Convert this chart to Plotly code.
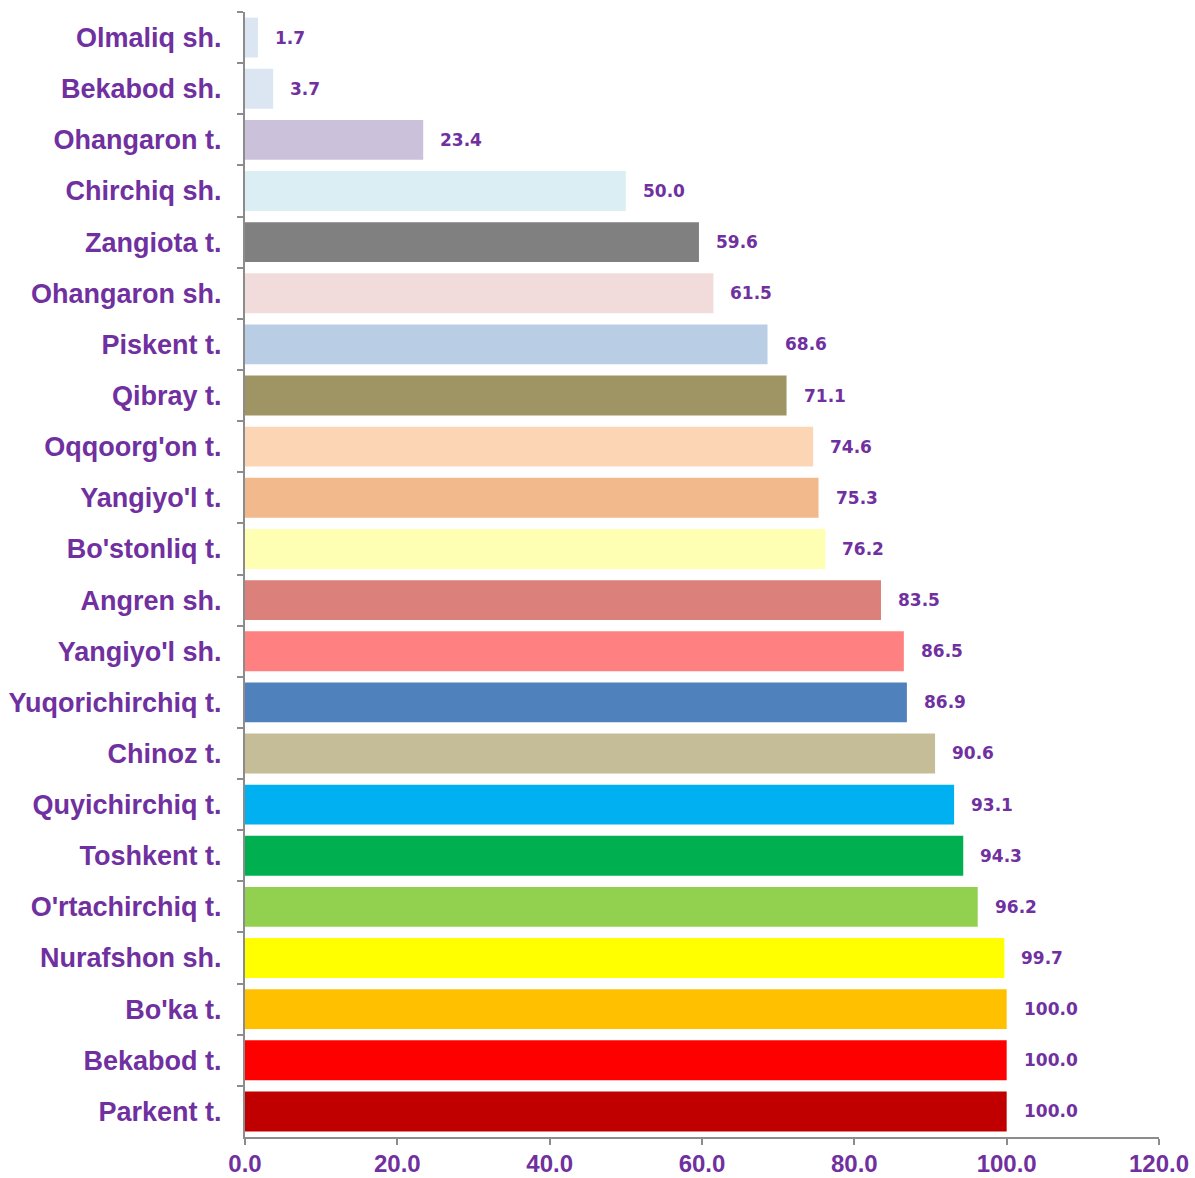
import plotly.graph_objects as go

categories = ["Olmaliq sh.", "Bekabod sh.", "Ohangaron t.", "Chirchiq sh.", "Zangiota t.",
              "Ohangaron sh.", "Piskent t.", "Qibray t.", "Oqqoorg'on t.", "Yangiyo'l t.",
              "Bo'stonliq t.", "Angren sh.", "Yangiyo'l sh.", "Yuqorichirchiq t.", "Chinoz t.",
              "Quyichirchiq t.", "Toshkent t.", "O'rtachirchiq t.", "Nurafshon sh.", "Bo'ka t.",
              "Bekabod t.", "Parkent t."]
values = [1.7, 3.7, 23.4, 50.0, 59.6, 61.5, 68.6, 71.1, 74.6, 75.3, 76.2, 83.5, 86.5, 86.9,
          90.6, 93.1, 94.3, 96.2, 99.7, 100.0, 100.0, 100.0]
colors = ["#DCE6F2", "#DCE6F2", "#CCC1DA", "#DBEEF4", "#808080", "#F2DCDB", "#B9CDE5",
          "#9F9564", "#FCD5B5", "#F2B98C", "#FFFFB3", "#DC807C", "#FF8080", "#4F81BD",
          "#C4BD97", "#00B0F0", "#00B050", "#92D050", "#FFFF00", "#FFC000", "#FF0000", "#C00000"]

purple = "#7030A0"
gray = "#8C8C8C"

fig = go.Figure()
fig.add_trace(go.Bar(
    x=values, y=categories, orientation="h",
    marker=dict(color=colors, line=dict(width=0)),
    hoverinfo="x+y",
))

for c, v in zip(categories, values):
    fig.add_annotation(x=v, y=c, text=f"{v:.1f}", showarrow=False, xanchor="left",
                       xshift=15,
                       font=dict(family="DejaVu Sans", size=17, color=purple, weight="bold"),
                       xref="x", yref="y")

fig.update_layout(
    width=1195, height=1178,
    margin=dict(l=245, r=36, t=12, b=41, autoexpand=False),
    plot_bgcolor="white", paper_bgcolor="white",
    showlegend=False,
    bargap=0.22,
    font=dict(family="Liberation Sans", color=purple),
)
fig.update_xaxes(
    range=[0, 120], dtick=20, tick0=0, tickformat=".1f",
    showgrid=False, zeroline=False, automargin=False,
    showline=True, linecolor=gray, linewidth=2,
    ticks="outside", ticklen=6, tickcolor=gray, tickwidth=2,
    tickfont=dict(family="Liberation Sans", size=24, color=purple, weight="bold"),
    ticklabelstandoff=-2,
)
fig.update_yaxes(
    categoryorder="array", categoryarray=categories, autorange="reversed",
    showgrid=False, zeroline=False, automargin=False,
    showline=True, linecolor=gray, linewidth=2,
    ticks="outside", ticklen=6, tickcolor=gray, tickwidth=2, tickson="boundaries",
    tickfont=dict(family="Liberation Sans", size=27, color=purple, weight="bold"),
    ticklabelstandoff=16,
)

fig.write_html("out.html", config={"displayModeBar": False},
               post_script="document.body.style.margin='0';document.body.style.overflow='hidden';")
